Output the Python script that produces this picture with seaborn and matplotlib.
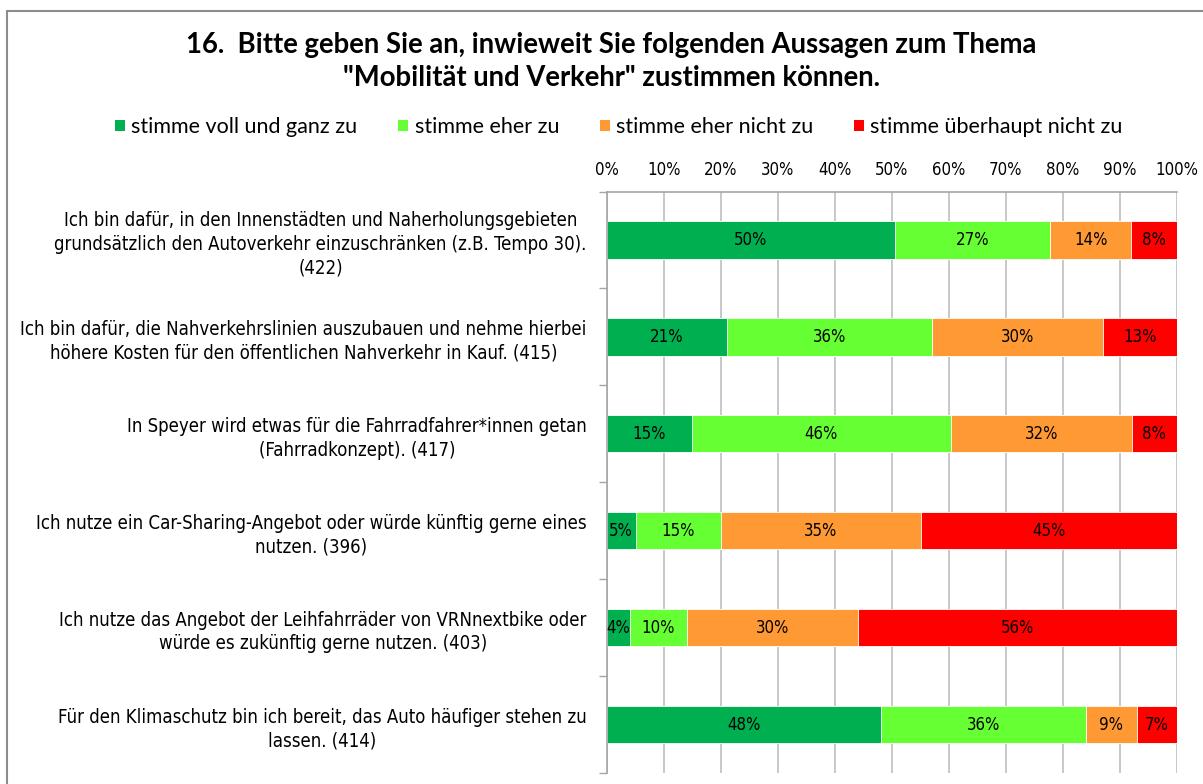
import numpy as np
import pandas as pd
import matplotlib
matplotlib.use("Agg")
import matplotlib.pyplot as plt
import seaborn as sns
from matplotlib import font_manager as fm
from matplotlib.patches import Patch
from matplotlib.lines import Line2D

# --- data -------------------------------------------------------------
statements = [
    "Ich bin dafür, in den Innenstädten und Naherholungsgebieten\n"
    "grundsätzlich den Autoverkehr einzuschränken (z.B. Tempo 30).\n(422)",
    "Ich bin dafür, die Nahverkehrslinien auszubauen und nehme hierbei\n"
    "höhere Kosten für den öffentlichen Nahverkehr in Kauf. (415)",
    "In Speyer wird etwas für die Fahrradfahrer*innen getan\n"
    "(Fahrradkonzept). (417)",
    "Ich nutze ein Car-Sharing-Angebot oder würde künftig gerne eines\n"
    "nutzen. (396)",
    "Ich nutze das Angebot der Leihfahrräder von VRNnextbike oder\n"
    "würde es zukünftig gerne nutzen. (403)",
    "Für den Klimaschutz bin ich bereit, das Auto häufiger stehen zu\n"
    "lassen. (414)",
]
series_names = [
    "stimme voll und ganz zu",
    "stimme eher zu",
    "stimme eher nicht zu",
    "stimme überhaupt nicht zu",
]
voll_und_ganz = [50, 21, 15, 5, 4, 48]
eher_zu = [27, 36, 46, 15, 10, 36]
eher_nicht_zu = [14, 30, 32, 35, 30, 9]
ueberhaupt_nicht_zu = [8, 13, 8, 45, 56, 7]
x_ticks = [0, 10, 20, 30, 40, 50, 60, 70, 80, 90, 100]

title_lines = [
    "16.  Bitte geben Sie an, inwieweit Sie folgenden Aussagen zum Thema",
    "\"Mobilität und Verkehr\" zustimmen können.",
]
colors = ["#00B050", "#66FF33", "#FF9933", "#FF0000"]

# --- fonts --------------------------------------------------------------
def narrow_font():
    """Return (FontProperties, scale) for a narrow sans face."""
    faces = fm.fontManager.ttflist
    for wanted in ("Liberation Sans Narrow", "Arial Narrow"):
        for f in faces:
            if f.name == wanted and f.style == "normal" and f.weight in (400, "normal", "regular"):
                return fm.FontProperties(fname=f.fname), 1.0
    for f in faces:
        if f.name == "DejaVu Sans" and "Condensed" in f.fname and f.style == "normal" \
                and "Bold" not in f.fname:
            return fm.FontProperties(fname=f.fname), 0.86
    return fm.FontProperties(family="Liberation Sans"), 0.83


NARROW, NSCALE = narrow_font()


def nfont(size):
    fp = NARROW.copy()
    fp.set_size(size * NSCALE)
    return fp


# --- style ------------------------------------------------------------
sns.set_theme(style="white")
plt.rcParams["font.family"] = ["Liberation Sans", "DejaVu Sans"]
plt.rcParams["text.color"] = "black"
HEAD_FONT = ["Lato", "DejaVu Sans"]
GRID = "#BFBFBF"
AXIS = "#A6A6A6"

W, H = 1203, 784
fig = plt.figure(figsize=(W / 100, H / 100), dpi=100)
fig.patch.set_facecolor("white")

ax_top, ax_bottom = 191.5, 773.0
ax_left, ax_right = 607.0, 1177.0
ax = fig.add_axes([ax_left / W, 1 - ax_bottom / H,
                   (ax_right - ax_left) / W, (ax_bottom - ax_top) / H])

# 100 % stacked bars: each row is scaled to its own total
counts = np.array([voll_und_ganz, eher_zu, eher_nicht_zu, ueberhaupt_nicht_zu],
                  dtype=float)
shares = counts / counts.sum(axis=0) * 100
ends = np.cumsum(shares, axis=0)

# draw the cumulative layers from the longest to the shortest
for i in range(len(series_names) - 1, -1, -1):
    layer = pd.DataFrame({"Aussage": statements, "Anteil": ends[i]})
    sns.barplot(data=layer, x="Anteil", y="Aussage", orient="h",
                color=colors[i], saturation=1, width=0.385, errorbar=None,
                edgecolor="white", linewidth=0.6, ax=ax, zorder=2)

# value labels in the middle of each segment
for i in range(len(series_names)):
    for j in range(len(statements)):
        ax.text(ends[i, j] - shares[i, j] / 2, j, f"{int(counts[i, j])}%",
                ha="center", va="center", fontproperties=nfont(14),
                color="black", zorder=3)

# axes
ax.set_xlim(0, 100)
ax.set_ylim(len(statements) - 0.5, -0.5)
ax.set_xlabel("")
ax.set_ylabel("")
ax.xaxis.tick_top()
ax.set_xticks(x_ticks)
ax.set_xticklabels([f"{v}%" for v in x_ticks])
for lab in ax.get_xticklabels():
    lab.set_fontproperties(nfont(14))
    lab.set_color("black")
ax.tick_params(axis="x", length=0, pad=9)
ax.grid(axis="x", color=GRID, linewidth=1.2, zorder=0)
ax.grid(axis="y", visible=False)
ax.set_axisbelow(True)

ax.tick_params(axis="y", which="major", length=0, pad=14.5)
for lab in ax.get_yticklabels():
    lab.set_fontproperties(nfont(15.5))
    lab.set_color("black")
    lab.set_multialignment("center")
    lab.set_linespacing(1.32)
ax.set_yticks(np.arange(-0.5, len(statements), 1), minor=True)
ax.tick_params(axis="y", which="minor", left=True, length=6, width=1,
               color=AXIS, direction="out")

for side in ("right", "bottom"):
    ax.spines[side].set_visible(False)
for side in ("top", "left"):
    ax.spines[side].set_color(AXIS)
    ax.spines[side].set_linewidth(1.2)

# title
for k, line in enumerate(title_lines):
    fig.text(611.5 / W, 1 - (45 + 33 * k) / H, line, ha="center", va="center",
             fontsize=19.8, fontweight="bold", family=HEAD_FONT, color="black")

# legend
handles = [Patch(facecolor=c, edgecolor="none", label=n)
           for c, n in zip(colors, series_names)]
leg = fig.legend(handles=handles, loc="center",
                 bbox_to_anchor=(619 / W, 1 - 127 / H),
                 ncol=4, frameon=False, handlelength=0.45, handleheight=0.45,
                 handletextpad=0.3, columnspacing=1.9,
                 prop={"family": HEAD_FONT, "size": 15.5})
for t in leg.get_texts():
    t.set_color("black")

# chart frame
frame_x, frame_y = 7 / W, 1 - 11 / H
fig.add_artist(Line2D([frame_x, frame_x], [0, frame_y], color="#8C8C8C",
                      linewidth=1.5, transform=fig.transFigure))
fig.add_artist(Line2D([frame_x, 1], [frame_y, frame_y], color="#8C8C8C",
                      linewidth=1.5, transform=fig.transFigure))

fig.savefig("out.png", dpi=100)
